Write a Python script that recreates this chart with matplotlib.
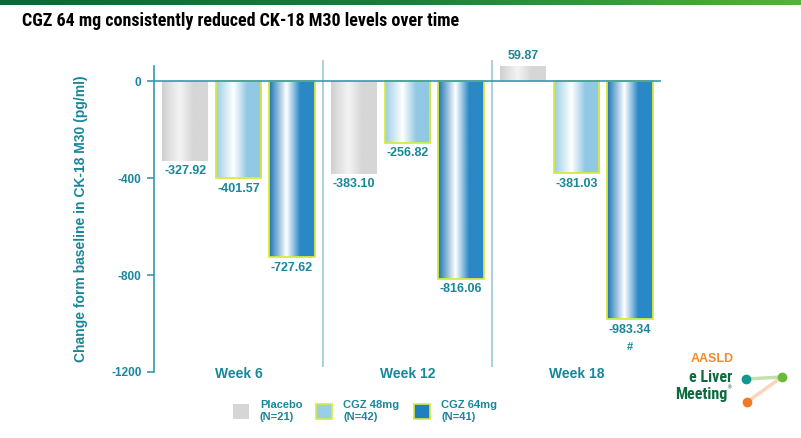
import matplotlib

matplotlib.use("Agg")
import matplotlib.pyplot as plt
import numpy as np
from matplotlib import font_manager
from matplotlib.colors import LinearSegmentedColormap
from matplotlib.patches import Rectangle

# data
weeks = ["Week 6", "Week 12", "Week 18"]
groups = ["Placebo", "CGZ 48mg", "CGZ 64mg"]
group_n = ["(N=21)", "(N=42)", "(N=41)"]
placebo = [-327.92, -383.10, 59.87]
cgz48 = [-401.57, -256.82, -381.03]
cgz64 = [-727.62, -816.06, -983.34]
marks64 = ["", "", "#"]
yticks = [0, -400, -800, -1200]

TEAL = "#17879c"
SPINE = "#3a98ad"
DIV = "#9ccbd6"
EDGE = "#d8ea3c"

# (left edge colour, highlight, body colour) for the shaded bars
shades = [
    ("#d0d0d0", "#f4f4f4", "#d6d6d6"),
    ("#9ccde6", "#ffffff", "#92c8e4"),
    ("#1a72b2", "#ffffff", "#2a88c6"),
]
solid = ["#d6d6d6", "#9ccde6", "#1f7fc0"]
edges = ["none", EDGE, EDGE]

# a narrow face for the title if one is installed
installed = {f.name for f in font_manager.fontManager.ttflist}
narrow = None
for cand in ["Liberation Sans Narrow", "Roboto Condensed", "Open Sans Condensed",
             "Arial Narrow"]:
    if cand in installed:
        narrow = cand
        break
title_font = [narrow] if narrow else ["Liberation Sans"]
title_size = 13 if narrow else 11.5

plt.rcParams["font.family"] = ["Liberation Sans", "DejaVu Sans"]
plt.rcParams["font.weight"] = "bold"

fig = plt.figure(figsize=(8.01, 4.38), dpi=100)
ax = fig.add_axes([0.1923, 0.1507, 0.6329, 0.6986])

# green strip along the top of the slide
strip = fig.add_axes([0, 0.989, 1, 0.011])
strip.imshow(np.linspace(0, 1, 256)[None, :], aspect="auto",
             cmap=LinearSegmentedColormap.from_list("g", ["#0a6a36", "#1b7d3a", "#5aae3c"]))
strip.axis("off")

x = np.arange(len(weeks))
width = 0.27
offsets = [-0.316, 0.0, 0.316]
series = [placebo, cgz48, cgz64]

for vals, off, (c0, hi, c1), ec in zip(series, offsets, shades, edges):
    bars = ax.bar(x + off, vals, width, facecolor="none", edgecolor=ec,
                  linewidth=1.3, zorder=3)
    cmap = LinearSegmentedColormap.from_list(
        "b", [(0, c0), (0.38, hi), (0.68, c1), (1, c1)])
    grad = np.linspace(0, 1, 200)[None, :]
    for b, v in zip(bars, vals):
        x0, w = b.get_x(), b.get_width()
        y0, y1 = sorted([0, v])
        ax.imshow(grad, extent=[x0, x0 + w, y0, y1], aspect="auto",
                  cmap=cmap, zorder=2, interpolation="bilinear")

# value labels
for vals, off in zip(series, offsets):
    for i, v in enumerate(vals):
        if v >= 0:
            ax.annotate(f"{v:.2f}", (i + off, v), xytext=(0, 3),
                        textcoords="offset points", ha="center", va="bottom",
                        fontsize=9, fontweight="bold", color=TEAL,
                        annotation_clip=False)
        else:
            ax.annotate(f"{v:.2f}", (i + off, v), xytext=(0, -3),
                        textcoords="offset points", ha="center", va="top",
                        fontsize=9, fontweight="bold", color=TEAL)
for i, m in enumerate(marks64):
    if m:
        ax.annotate(m, (i + offsets[2], cgz64[i]), xytext=(0, -16),
                    textcoords="offset points", ha="center", va="top",
                    fontsize=8, fontweight="bold", color=TEAL)

ax.set_xlim(-0.5, 2.5)
ax.set_ylim(-1200, 62)

ax.axhline(0, color=SPINE, linewidth=1.2, zorder=4)
for d in [0.5, 1.5]:
    ax.vlines(d, -1180, 88, color=DIV, linewidth=1.2, clip_on=False, zorder=1)

for i, w in enumerate(weeks):
    ax.text(i, -1208, w, ha="center", va="center", fontsize=10,
            fontweight="bold", color=TEAL)

for s in ["top", "right", "bottom"]:
    ax.spines[s].set_visible(False)
ax.spines["left"].set_color(SPINE)
ax.spines["left"].set_linewidth(1.2)
ax.set_xticks([])
ax.set_yticks(yticks)
ax.set_yticklabels([str(t) for t in yticks], fontweight="bold")
ax.tick_params(axis="y", colors=SPINE, labelcolor=TEAL, labelsize=8.5,
               length=5, width=1.2, pad=4)
ax.set_ylabel("Change form baseline in CK-18 M30 (pg/ml)", fontsize=10,
              fontweight="bold", color=TEAL, labelpad=17)

fig.text(22 / 801, 1 - 21 / 438, "CGZ 64 mg consistently reduced CK-18 M30 levels over time",
         fontsize=title_size, fontweight="bold", color="black", va="center",
         family=title_font)

# legend, drawn by hand to match the slide
leg_x = [233, 316, 414]
for lx, name, n, sc, ec in zip(leg_x, groups, group_n, solid, edges):
    fig.patches.append(Rectangle((lx / 801, 1 - 419 / 438), 16 / 801, 15 / 438,
                                 transform=fig.transFigure, facecolor=sc,
                                 edgecolor=ec, linewidth=1.2))
    fig.text((lx + 27) / 801, 1 - 411 / 438, f"{name}\n{n}", fontsize=8,
             fontweight="bold", color=TEAL, va="center", ha="left",
             linespacing=1.25)

# conference logo
logo_font = [narrow] if narrow else ["Liberation Sans"]
logo_size = 11.5 if narrow else 10
fig.text(712 / 801, 1 - 359 / 438, "AASLD", fontsize=9, fontweight="bold",
         color="#f08a2c", ha="center", va="center")
fig.text(732 / 801, 1 - 378 / 438, "e Liver", fontsize=logo_size, fontweight="bold",
         color="#0b6b3e", ha="right", va="center", family=logo_font)
fig.text(727 / 801, 1 - 395 / 438, "Meeting", fontsize=logo_size, fontweight="bold",
         color="#0b6b3e", ha="right", va="center", family=logo_font)
fig.text(728 / 801, 1 - 390 / 438, "\u00ae", fontsize=3.5, color="#0b6b3e",
         va="bottom")
pts = {"t": (746, 379), "g": (782, 377), "o": (747, 402)}
lines = [("t", "g", "#a8d68a"), ("o", "g", "#f8c4a0")]
for a, b, c in lines:
    fig.add_artist(plt.Line2D([pts[a][0] / 801, pts[b][0] / 801],
                              [1 - pts[a][1] / 438, 1 - pts[b][1] / 438],
                              color=c, linewidth=2.5, alpha=0.7,
                              transform=fig.transFigure))
for k, c in [("t", "#14968f"), ("g", "#6ab93a"), ("o", "#f07a22")]:
    fig.add_artist(plt.Line2D([pts[k][0] / 801], [1 - pts[k][1] / 438], marker="o",
                              markersize=6, color=c, transform=fig.transFigure))

fig.savefig("out.png", dpi=100)
